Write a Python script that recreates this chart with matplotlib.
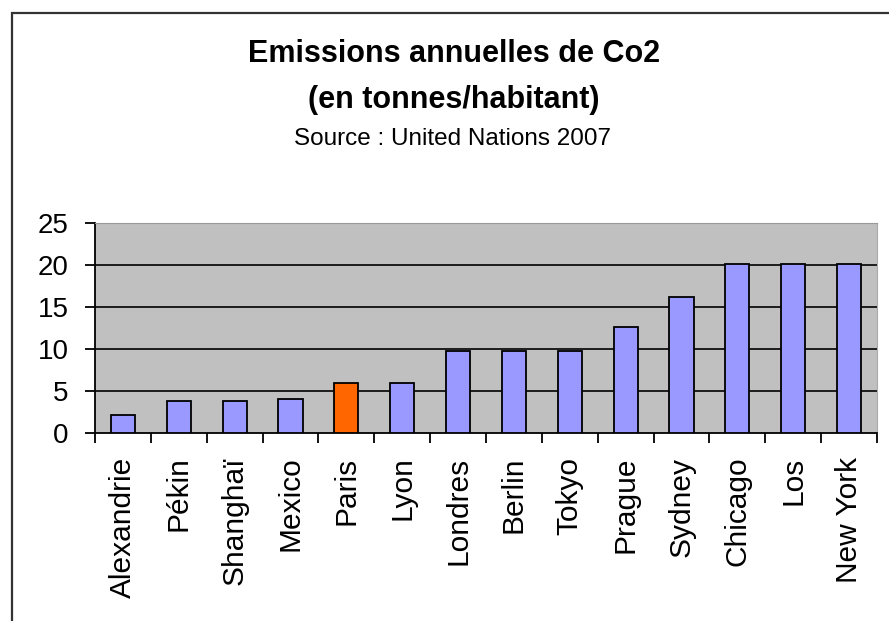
import matplotlib.pyplot as plt
import matplotlib.patches as patches
import numpy as np

# CO2 emissions per inhabitant (tonnes)
villes = ['Alexandrie', 'Pékin', 'Shanghaï', 'Mexico', 'Paris', 'Lyon',
          'Londres', 'Berlin', 'Tokyo', 'Prague', 'Sydney', 'Chicago',
          'Los', 'New York']
emissions = [2.1, 3.85, 3.85, 4.1, 6.0, 6.0, 9.8, 9.8, 9.8, 12.6, 16.2,
             20.1, 20.1, 20.1]
highlight = 'Paris'
yticks = [0, 5, 10, 15, 20, 25]

W, H = 889, 621
fig = plt.figure(figsize=(W / 100, H / 100), dpi=100)
fig.patch.set_facecolor('white')

sans = ['Liberation Sans', 'DejaVu Sans']

# frame around the chart (cut off on the right and bottom)
fig.patches.append(patches.Rectangle((12 / W, -0.1), 1.2, 1.1 - 13 / H,
                                     transform=fig.transFigure, fill=False,
                                     edgecolor='#333333', linewidth=1.6))

# titles
fig.text(454 / W, 1 - 62 / H, 'Emissions annuelles de Co2', ha='center',
         va='baseline', fontsize=22, fontweight='bold', family=sans)
fig.text(454 / W, 1 - 108 / H, '(en tonnes/habitant)', ha='center',
         va='baseline', fontsize=22, fontweight='bold', family=sans)
fig.text(452 / W, 1 - 145 / H, 'Source : United Nations 2007', ha='center',
         va='baseline', fontsize=17.5, family=sans)

ax = fig.add_axes([95 / W, 1 - 433 / H, (877 - 95) / W, (433 - 223) / H])
ax.set_facecolor('#C0C0C0')

x = np.arange(len(villes))
colors = ['#FF6600' if v == highlight else '#9999FF' for v in villes]
ax.bar(x, emissions, width=0.43, color=colors, edgecolor='black',
       linewidth=1.3, zorder=3)

ax.set_xlim(-0.5, len(villes) - 0.5)
ax.set_ylim(0, 25)
ax.set_yticks(yticks)
ax.set_yticklabels([str(t) for t in yticks], fontsize=20, family=sans)
for t in yticks[1:-1]:
    ax.axhline(t, color='black', linewidth=1.2, zorder=1)

# category labels at centers, tick marks between categories
ax.set_xticks(x)
ax.set_xticklabels(villes, rotation=90, fontsize=21.5, family=sans)
ax.set_xticks(np.arange(len(villes) + 1) - 0.5, minor=True)
ax.tick_params(axis='x', which='major', length=0, pad=17)
ax.tick_params(axis='x', which='minor', length=7, width=1.3, direction='out')
ax.tick_params(axis='y', length=7, width=1.3, direction='out', pad=12)

for side in ['left', 'bottom']:
    ax.spines[side].set_linewidth(1.3)
    ax.spines[side].set_color('black')
ax.spines['top'].set_color('#999999')
ax.spines['right'].set_color('#AAAAAA')

fig.savefig('out.png', dpi=100)
